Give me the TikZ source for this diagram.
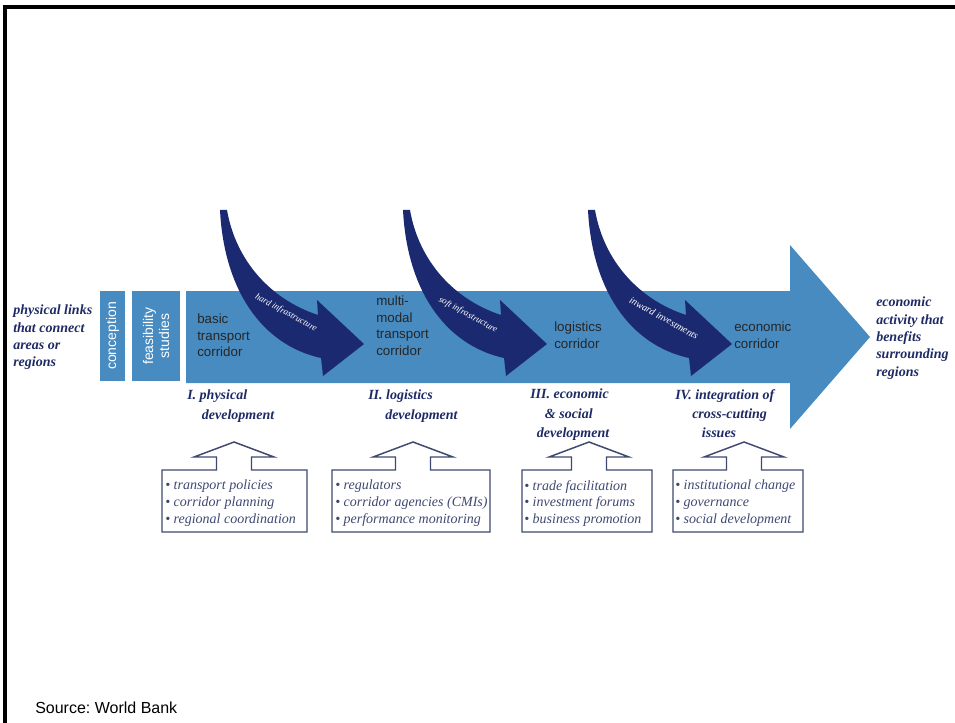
\documentclass[tikz,border=0pt]{standalone}
\usepackage{fontspec}
\setmainfont{Liberation Serif}
\setsansfont{Liberation Sans}
\usetikzlibrary{positioning}
\frenchspacing
\definecolor{corridorblue}{RGB}{72,139,193}
\definecolor{pushnavy}{RGB}{27,42,112}
\definecolor{labelnavy}{RGB}{30,42,100}
\definecolor{listgray}{RGB}{62,72,112}
\tikzstyle{stagetext} = [font=\sffamily\fontsize{10}{12.4}\selectfont, text=black!85, align=left, anchor=north west, inner sep=0]
\tikzstyle{vtext} = [font=\sffamily\fontsize{10.5}{12}\selectfont, text=white, fill=corridorblue, align=center, rotate=90, inner sep=0]
\tikzstyle{sidenote} = [font=\bfseries\itshape\fontsize{10.5}{13}\selectfont, text=labelnavy, align=left, anchor=north west, inner sep=0]
\tikzstyle{phase} = [font=\bfseries\itshape\fontsize{10.5}{14.5}\selectfont, text=labelnavy, align=left, anchor=north west, inner sep=0]
\tikzstyle{tasks} = [font=\itshape\fontsize{10.5}{12.4}\selectfont, text=listgray, align=left, anchor=north west, inner sep=0]
\tikzstyle{push} = [fill=pushnavy, draw=none]
\tikzstyle{pushlabel} = [font=\itshape\fontsize{6.8}{7}\selectfont, text=white, rotate=-29, inner sep=0]
\tikzstyle{taskframe} = [draw=listgray, line width=1.1pt, line join=miter]

\begin{document}
\begin{tikzpicture}[x=0.75pt, y=-0.75pt]
	\useasboundingbox (0,0) rectangle (955,723);
	\draw[line width=2.4pt] (5,723) -- (5,7) -- (955,7);
	% corridor arrow and first stages
	\fill[corridorblue] (186,291) -- (790,291) -- (790,245) -- (870,337) -- (790,429) -- (790,383) -- (186,383) -- cycle;
	\node[vtext, minimum width=67.5pt, minimum height=18.75pt] (concept) at (112.5,336) {conception};
	\node[vtext, minimum width=67.5pt, minimum height=36pt] (feasib) at (156,336) {feasibility\\studies};
	% curved push arrows
	\foreach \dx in {0,183,368}
	{
		\begin{scope}[shift={(\dx,0)}]
			\fill[push] (220,210) .. controls (224,290) and (262,345) .. (321,358) -- (323,376) -- (364,344) -- (317,300) -- (318,315) .. controls (272,300) and (236,262) .. (227,210) -- cycle;
		\end{scope}
	}
	\node[pushlabel] (hard) at (286,313) {hard infrastructure};
	\node[pushlabel] (soft) at (468,315) {soft infrastructure};
	\node[pushlabel, font=\itshape\fontsize{7.5}{8}\selectfont] (inward) at (664,318) {inward investments};
	% corridor stages
	\node[stagetext] (basic) at (197,314) {basic\\transport\\corridor};
	\node[stagetext] (multi) at (376,296) {multi-\\modal\\transport\\corridor};
	\node[stagetext] (logist) at (554,322) {logistics\\corridor};
	\node[stagetext] (econ) at (734,322) {economic\\corridor};
	\node[sidenote] (links) at (13,305) {physical links\\that connect\\areas or\\regions};
	\node[sidenote] (benefit) at (876,297) {economic\\activity that\\benefits\\surrounding\\regions};
	% development phases
	\node[phase, font=\bfseries\itshape\fontsize{10.5}{15}\selectfont] (phys) at (187,390) {I. physical\\\hspace*{11pt}development};
	\node[phase, font=\bfseries\itshape\fontsize{10.5}{15}\selectfont] (logdev) at (368,390) {II. logistics\\\hspace*{12.75pt}development};
	\node[phase] (ecodev) at (530,389) {III. economic\\\hspace*{11pt}\& social\\\hspace*{5pt}development};
	\node[phase] (cross) at (675,389) {IV. integration of\\\hspace*{12.75pt}cross-cutting\\\hspace*{20pt}issues};
	% task boxes
	\foreach \l/\r/\c in {162/307/234, 332/490/413, 522/652/589, 673/803/744}
		\draw[taskframe] (\l,470) -- (\c-17.5,470) -- (\c-17.5,457) -- (\c-40,457) -- (\c,442) -- (\c+40,457) -- (\c+17.5,457) -- (\c+17.5,470) -- (\r,470) -- (\r,532) -- (\l,532) -- cycle;
	\node[tasks] (tasks1) at (165,480) {\textbullet\ transport policies\\\textbullet\ corridor planning\\\textbullet\ regional coordination};
	\node[tasks] (tasks2) at (335,480) {\textbullet\ regulators\\\textbullet\ corridor agencies (CMIs)\\\textbullet\ performance monitoring};
	\node[tasks] (tasks3) at (524,480) {\textbullet\ trade facilitation\\\textbullet\ investment forums\\\textbullet\ business promotion};
	\node[tasks] (tasks4) at (675,480) {\textbullet\ institutional change\\\textbullet\ governance\\\textbullet\ social development};
	\node[anchor=west, font=\sffamily\fontsize{12}{14}\selectfont, inner sep=0] (source) at (35,708) {Source: World Bank};
\end{tikzpicture}
\end{document}
